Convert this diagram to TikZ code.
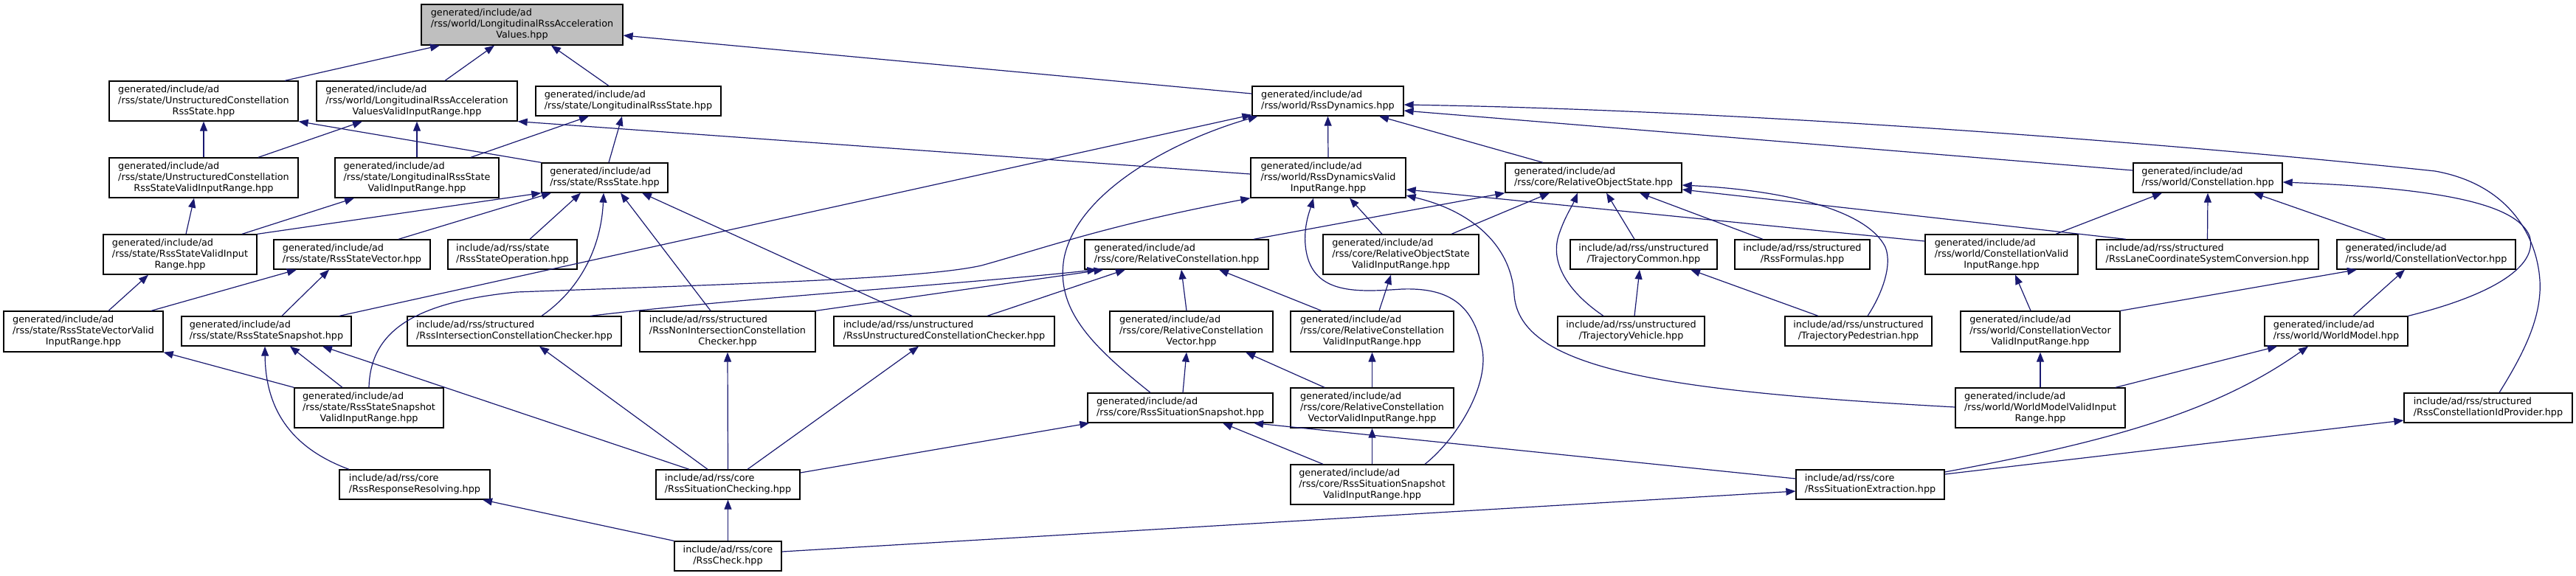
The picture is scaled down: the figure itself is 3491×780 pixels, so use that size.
\documentclass[tikz,border=0pt]{standalone}
\usepackage{fontspec}
\setmainfont{DejaVu Sans}
\usetikzlibrary{arrows.meta,calc}
\definecolor{edgeblue}{HTML}{191970}
\newcommand{\dxl}[2]{\begin{tabular}{@{}l@{}}#1\\\multicolumn{1}{@{}c@{}}{#2}\end{tabular}}
\begin{document}
\begin{tikzpicture}[x=1pt,y=-1pt,
  font=\fontsize{12.8}{15}\selectfont,
  nb/.style 2 args={draw=black,line width=1.3pt,fill=white,inner sep=0pt,minimum width=#1pt,minimum height=#2pt},
  ed/.style={draw=edgeblue,line width=1.2pt,-{Triangle[length=13pt,width=10pt]}}]
\useasboundingbox (0,0) rectangle (3491,780);
% nodes
\node[nb={273}{55},fill=black!25] (root) at (707.5,33.5) {\dxl{generated/include/ad\\/rss/world/LongitudinalRssAcceleration}{Values.hpp}};
\node[nb={256}{54}] (ucrs) at (276,137) {\dxl{generated/include/ad\\/rss/state/UnstructuredConstellation}{RssState.hpp}};
\node[nb={272}{54}] (lravvir) at (565,137) {\dxl{generated/include/ad\\/rss/world/LongitudinalRssAcceleration}{ValuesValidInputRange.hpp}};
\node[nb={251}{40}] (lrs) at (851.5,137) {\dxl{generated/include/ad}{/rss/state/LongitudinalRssState.hpp}};
\node[nb={205}{40}] (rd) at (1799.5,137) {\dxl{generated/include/ad}{/rss/world/RssDynamics.hpp}};
\node[nb={256}{54}] (ucrsvir) at (276,241) {\dxl{generated/include/ad\\/rss/state/UnstructuredConstellation}{RssStateValidInputRange.hpp}};
\node[nb={222}{54}] (lrsvir) at (565,241) {\dxl{generated/include/ad\\/rss/state/LongitudinalRssState}{ValidInputRange.hpp}};
\node[nb={210}{54}] (rdvir) at (1800,241) {\dxl{generated/include/ad\\/rss/world/RssDynamicsValid}{InputRange.hpp}};
\node[nb={171}{40}] (rs) at (819.5,241) {\dxl{generated/include/ad}{/rss/state/RssState.hpp}};
\node[nb={239}{40}] (ros) at (2159.5,241) {\dxl{generated/include/ad}{/rss/core/RelativeObjectState.hpp}};
\node[nb={202}{40}] (con) at (2992,241) {\dxl{generated/include/ad}{/rss/world/Constellation.hpp}};
\node[nb={208}{54}] (rsvir) at (244,345) {\dxl{generated/include/ad\\/rss/state/RssStateValidInput}{Range.hpp}};
\node[nb={212}{40}] (rsv) at (477,345) {\dxl{generated/include/ad}{/rss/state/RssStateVector.hpp}};
\node[nb={175}{40}] (rso) at (694.5,345) {\dxl{include/ad/rss/state}{/RssStateOperation.hpp}};
\node[nb={249}{40}] (rcon) at (1594.5,345) {\dxl{generated/include/ad}{/rss/core/RelativeConstellation.hpp}};
\node[nb={211}{54}] (rosvir) at (1898.5,345) {\dxl{generated/include/ad\\/rss/core/RelativeObjectState}{ValidInputRange.hpp}};
\node[nb={199}{40}] (tc) at (2227.5,345) {\dxl{include/ad/rss/unstructured}{/TrajectoryCommon.hpp}};
\node[nb={183}{40}] (rf) at (2442.5,345) {\dxl{include/ad/rss/structured}{/RssFormulas.hpp}};
\node[nb={207}{54}] (cvir) at (2712.5,345) {\dxl{generated/include/ad\\/rss/world/ConstellationValid}{InputRange.hpp}};
\node[nb={301}{40}] (rlcsc) at (2991.5,345) {\dxl{include/ad/rss/structured}{/RssLaneCoordinateSystemConversion.hpp}};
\node[nb={242}{40}] (cv) at (3288,345) {\dxl{generated/include/ad}{/rss/world/ConstellationVector.hpp}};
\node[nb={216}{55}] (rsvvir) at (113,449.5) {\dxl{generated/include/ad\\/rss/state/RssStateVectorValid}{InputRange.hpp}};
\node[nb={230}{40}] (rss) at (361,449) {\dxl{generated/include/ad}{/rss/state/RssStateSnapshot.hpp}};
\node[nb={290}{40}] (ric) at (697,449) {\dxl{include/ad/rss/structured}{/RssIntersectionConstellationChecker.hpp}};
\node[nb={238}{55}] (rnicc) at (986,449.5) {\dxl{include/ad/rss/structured\\/RssNonIntersectionConstellation}{Checker.hpp}};
\node[nb={299}{40}] (rucc) at (1279.5,449) {\dxl{include/ad/rss/unstructured}{/RssUnstructuredConstellationChecker.hpp}};
\node[nb={221}{55}] (rcv) at (1614.5,449.5) {\dxl{generated/include/ad\\/rss/core/RelativeConstellation}{Vector.hpp}};
\node[nb={221}{55}] (rcvir) at (1859.5,449.5) {\dxl{generated/include/ad\\/rss/core/RelativeConstellation}{ValidInputRange.hpp}};
\node[nb={199}{40}] (tv) at (2210.5,449) {\dxl{include/ad/rss/unstructured}{/TrajectoryVehicle.hpp}};
\node[nb={199}{40}] (tp) at (2518.5,449) {\dxl{include/ad/rss/unstructured}{/TrajectoryPedestrian.hpp}};
\node[nb={216}{55}] (cvvir) at (2765,449.5) {\dxl{generated/include/ad\\/rss/world/ConstellationVector}{ValidInputRange.hpp}};
\node[nb={194}{40}] (wm) at (3166,449) {\dxl{generated/include/ad}{/rss/world/WorldModel.hpp}};
\node[nb={202}{54}] (rssvir) at (500,553) {\dxl{generated/include/ad\\/rss/state/RssStateSnapshot}{ValidInputRange.hpp}};
\node[nb={251}{40}] (rssn) at (1599.5,553) {\dxl{generated/include/ad}{/rss/core/RssSituationSnapshot.hpp}};
\node[nb={221}{54}] (rcvvir) at (1859.5,553) {\dxl{generated/include/ad\\/rss/core/RelativeConstellation}{VectorValidInputRange.hpp}};
\node[nb={230}{54}] (wmvir) at (2765,553) {\dxl{generated/include/ad\\/rss/world/WorldModelValidInput}{Range.hpp}};
\node[nb={228}{40}] (rcip) at (3372,553) {\dxl{include/ad/rss/structured}{/RssConstellationIdProvider.hpp}};
\node[nb={204}{40}] (rrr) at (562,657) {\dxl{include/ad/rss/core}{/RssResponseResolving.hpp}};
\node[nb={195}{40}] (rsc) at (986.5,657) {\dxl{include/ad/rss/core}{/RssSituationChecking.hpp}};
\node[nb={201}{40}] (rse) at (2534.5,657) {\dxl{include/ad/rss/core}{/RssSituationExtraction.hpp}};
\node[nb={221}{54}] (rssnvir) at (1859.5,657) {\dxl{generated/include/ad\\/rss/core/RssSituationSnapshot}{ValidInputRange.hpp}};
\node[nb={145}{40}] (rc) at (986.5,754) {\dxl{include/ad/rss/core}{/RssCheck.hpp}};
% edges
\draw[ed] ($(ucrs.north)+(110,0)$) -- ($(root.south)+(-111.5,0)$);
\draw[ed] ($(lravvir.north)+(38,0)$) -- ($(root.south)+(-37.5,0)$);
\draw[ed] ($(lrs.north)+(-26.5,0)$) -- ($(root.south)+(39.5,0)$);
\draw[ed] ($(rd.west)+(0,-10)$) -- ($(root.east)+(0,14.5)$);
\draw[ed] (ucrsvir.north) -- (ucrs.south);
\draw[ed] (rs.north west) -- (ucrs.south east);
\draw[ed] ($(ucrsvir.north)+(74,0)$) -- ($(lravvir.south)+(-74,0)$);
\draw[ed] (lrsvir.north) -- (lravvir.south);
\draw[ed] ($(rdvir.west)+(0,-5)$) -- (lravvir.south east);
\draw[ed] ($(lrsvir.north)+(73,0)$) -- ($(lrs.south)+(-53.5,0)$);
\draw[ed] ($(rs.north)+(5.5,0)$) -- ($(lrs.south)+(-8.5,0)$);
\draw[ed] (rsvir.north east) -- (rs.south west);
\draw[ed] ($(rsv.north)+(63,0)$) -- ($(rs.south)+(-72.5,0)$);
\draw[ed] ($(rso.north)+(23.5,0)$) -- ($(rs.south)+(-32.5,0)$);
\draw[ed] ($(ric.north)+(37,0)$) .. controls +(56,-39) and +(-3,69) .. ($(rs.south)+(-1.5,0)$);
\draw[ed] ($(rnicc.north)+(-23,0)$) -- ($(rs.south)+(21.5,0)$);
\draw[ed] ($(rucc.north)+(-43.5,0)$) -- ($(rs.south)+(50.5,0)$);
\draw[ed] ($(rss.north)+(99,0)$) -- ($(rd.south west)+(0,-2)$);
\draw[ed] ($(rssn.north)+(-40.5,0)$) .. controls +(-79,-63) and +(-12,70) .. (1442,350) .. controls +(18,-90) and +(-115,33) .. ($(rd.south west)+(8,0)$);
\draw[ed] (rdvir.north) -- (rd.south);
\draw[ed] ($(ros.north)+(-68.5,0)$) -- ($(rd.south)+(69.5,0)$);
\draw[ed] ($(con.west)+(0,-10)$) -- ($(rd.east)+(0,13)$);
\draw[ed] ($(rcip.north)+(15,0)$) .. controls +(33,-53) and +(3,50) .. (3442,380) .. controls +(-4,-60) and +(100,18) .. (3300,232) .. controls +(-300,-32) and +(495,8) .. ($(rd.east)+(0,5)$);
\draw[ed] (wm.north east) .. controls +(117,-29) and +(12,40) .. (3428,320) .. controls +(-18,-45) and +(207,8) .. ($(con.east)+(0,6)$);
\draw[ed] ($(wmvir.north)+(102,0)$) -- ($(wm.south)+(-80,0)$);
\draw[ed] ($(rse.east)+(0,-17)$) .. controls +(215,-40) and +(-128,91) .. ($(wm.south)+(-38,0)$);
\draw[ed] (cvvir.north east) -- ($(cv.south)+(-94,0)$);
\draw[ed] ($(wm.north)+(23,0)$) -- ($(cv.south)+(-29,0)$);
\draw[ed] ($(cvir.north)+(73.5,0)$) -- ($(con.south)+(-62,0)$);
\draw[ed] (rlcsc.north) -- (con.south);
\draw[ed] ($(cv.north)+(-55,0)$) -- ($(con.south)+(62,0)$);
\draw[ed] ($(cvvir.north)+(-13,0)$) -- ($(cvir.south)+(18.5,0)$);
\draw[ed] ($(cvir.west)+(0,-18)$) -- ($(rdvir.east)+(0,16)$);
\draw[ed] ($(rcon.north)+(104.5,0)$) -- (ros.south west);
\draw[ed] (wmvir.north) -- (cvvir.south);
\draw[ed] ($(wmvir.west)+(0,-1)$) .. controls +(-400,-22) and +(8,100) .. (2052,400) .. controls +(-4,-70) and +(85,20) .. ($(rdvir.east)+(0,24)$);
\draw[ed] ($(rssnvir.north)+(71.5,0)$) .. controls +(44,-35) and +(12,50) .. (2008,470) .. controls +(-13,-60) and +(60,-2) .. (1900,392) .. controls +(-60,4) and +(10,60) .. (1770,340) .. controls +(-5,-30) and +(-5,17) .. ($(rdvir.south)+(-20,0)$);
\draw[ed] ($(rosvir.north)+(-25.5,0)$) -- ($(rdvir.south)+(29,0)$);
\draw[ed] (rssvir.north) .. controls +(2,-76) and +(-140,14) .. (700,396) .. controls +(300,-11) and +(-80,18) .. (1330,360) .. controls +(90,-25) and +(-195,37) .. (rdvir.south west);
\draw[ed] ($(rcvir.north)+(9.5,0)$) -- ($(rosvir.south)+(-13.5,0)$);
\draw[ed] ($(rosvir.north)+(68.5,0)$) -- ($(ros.south)+(-59.5,0)$);
\draw[ed] ($(tv.north)+(-37.5,0)$) .. controls +(-43,-29) and +(-12,40) .. (2112,320) .. controls +(8,-25) and +(-8,19) .. ($(ros.south)+(-21.5,0)$);
\draw[ed] ($(tc.north)+(-12.5,0)$) -- ($(ros.south)+(17.5,0)$);
\draw[ed] ($(rf.north)+(-53.5,0)$) -- ($(ros.south)+(62.5,0)$);
\draw[ed] ($(rlcsc.north)+(-110.5,0)$) -- ($(ros.east)+(0,16)$);
\draw[ed] ($(tp.north)+(12.5,0)$) .. controls +(19,-29) and +(10,25) .. (2555,335) .. controls +(-25,-50) and +(141,7) .. ($(ros.east)+(0,10)$);
\draw[ed] ($(tv.north)+(4.5,0)$) -- ($(tc.south)+(-5.5,0)$);
\draw[ed] ($(tp.north)+(-54.5,0)$) -- ($(tc.south)+(63.5,0)$);
\draw[ed] ($(ric.north)+(103,0)$) .. controls +(200,-24) and +(-186,20) .. ($(rcon.south)+(-108,0)$);
\draw[ed] (rnicc.north east) -- ($(rcon.south)+(-99,0)$);
\draw[ed] ($(rucc.north)+(58.5,0)$) -- ($(rcon.south)+(-69.5,0)$);
\draw[ed] ($(rcv.north)+(-6.5,0)$) -- ($(rcon.south)+(6.5,0)$);
\draw[ed] ($(rcvir.north)+(-68.5,0)$) -- ($(rcon.south)+(57.5,0)$);
\draw[ed] ($(rssn.north)+(3.5,0)$) -- ($(rcv.south)+(-6.5,0)$);
\draw[ed] ($(rcvvir.north)+(-64.5,0)$) -- ($(rcv.south)+(73.5,0)$);
\draw[ed] (rcvvir.north) -- (rcvir.south);
\draw[ed] (rssnvir.north) -- (rcvvir.south);
\draw[ed] ($(rsc.east)+(0,-16)$) -- ($(rssn.south west)+(3,0)$);
\draw[ed] ($(rssnvir.north)+(-66.5,0)$) -- ($(rssn.south)+(57.5,0)$);
\draw[ed] ($(rse.west)+(0,-8)$) -- ($(rssn.south)+(99.5,0)$);
\draw[ed] ($(rsc.north)+(-27.5,0)$) -- ($(ric.south)+(34,0)$);
\draw[ed] (rsc.north) -- (rnicc.south);
\draw[ed] ($(rsc.north)+(26.5,0)$) -- ($(rucc.south)+(-34.5,0)$);
\draw[ed] ($(rsc.north)+(-52.5,0)$) -- ($(rss.south)+(76,0)$);
\draw[ed] (rc.north) -- (rsc.south);
\draw[ed] (rc.north west) -- ($(rrr.south)+(92,0)$);
\draw[ed] ($(rc.east)+(0,-6)$) -- ($(rse.west)+(0,9)$);
\draw[ed] ($(rrr.north)+(-89,0)$) .. controls +(-73,-27) and +(1,91) .. ($(rss.south)+(-2,0)$);
\draw[ed] ($(rssvir.north)+(-36,0)$) -- ($(rss.south)+(32,0)$);
\draw[ed] (rssvir.north west) -- (rsvvir.south east);
\draw[ed] ($(rsvvir.north)+(34,0)$) -- ($(rsvir.south)+(-43,0)$);
\draw[ed] ($(rsvvir.north)+(92,0)$) -- ($(rsv.south)+(-75,0)$);
\draw[ed] ($(rss.north)+(21,0)$) -- ($(rsv.south)+(-31,0)$);
\draw[ed] ($(rsvir.north)+(8,0)$) -- ($(ucrsvir.south)+(-13,0)$);
\draw[ed] ($(rsvir.north)+(84,0)$) -- ($(lrsvir.south)+(-85,0)$);
\draw[ed] ($(rse.east)+(0,-14)$) -- ($(rcip.west)+(0,17)$);
\end{tikzpicture}
\end{document}
